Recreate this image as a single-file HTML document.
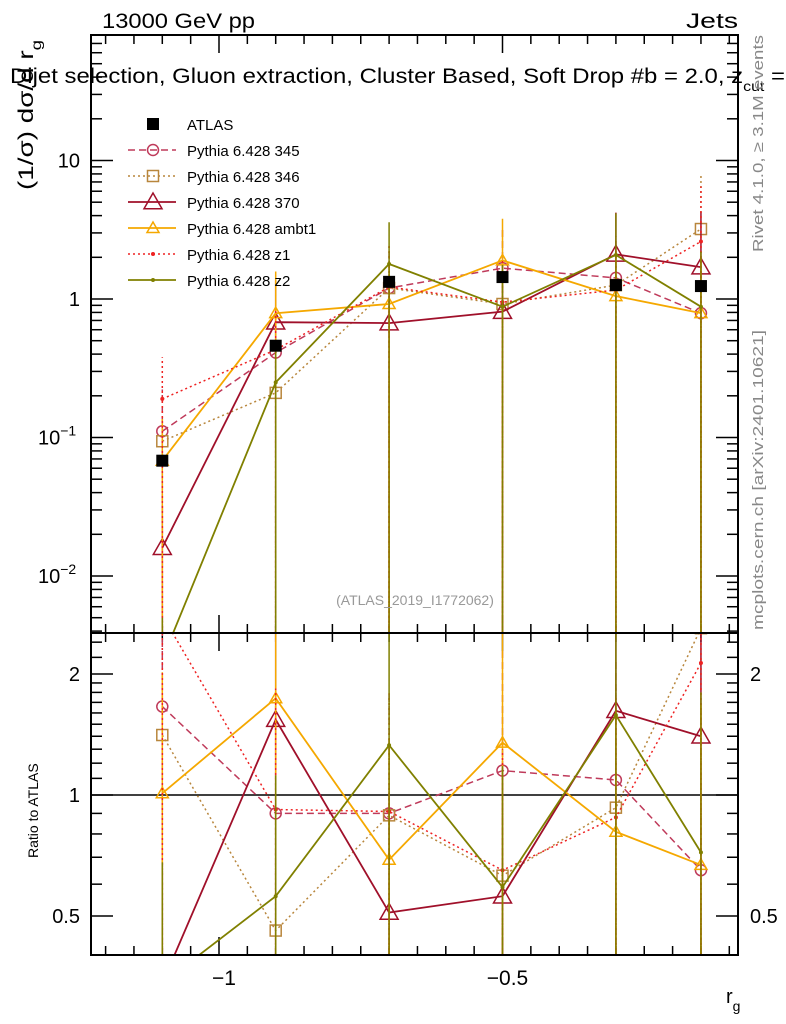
<!DOCTYPE html>
<html><head><meta charset="utf-8"><style>
html,body{margin:0;padding:0;background:#fff;overflow:hidden;width:786px;height:1024px}
svg{display:block;font-family:"Liberation Sans",sans-serif}
</style></head><body>
<svg id="chart" width="786" height="1024" viewBox="0 0 786 1024" xmlns="http://www.w3.org/2000/svg">
<defs>
<clipPath id="cm"><rect x="91" y="35" width="647" height="598"/></clipPath>
<clipPath id="cr"><rect x="91" y="633" width="647" height="322"/></clipPath>
</defs>
<g id="axes"></g>
<g id="mainMarks" clip-path="url(#cm)"></g>
<g id="ratioMarks" clip-path="url(#cr)"></g>
<rect x="91" y="35" width="647" height="598" fill="none" stroke="#000" stroke-width="2"/>
<rect x="91" y="633" width="647" height="322" fill="none" stroke="#000" stroke-width="2"/>
<text x="102" y="28" font-size="21" textLength="153" lengthAdjust="spacingAndGlyphs">13000 GeV pp</text>
<text x="686" y="28" font-size="21" textLength="52" lengthAdjust="spacingAndGlyphs">Jets</text>
<text x="10" y="83" font-size="21" textLength="775" lengthAdjust="spacingAndGlyphs">Dijet selection, Gluon extraction, Cluster Based, Soft Drop #b = 2.0, z<tspan font-size="14" dy="8">cut</tspan><tspan dy="-8"> =</tspan></text>
<text transform="translate(33,190) rotate(-90)" font-size="21" textLength="150" lengthAdjust="spacingAndGlyphs">(1/σ) dσ/d r<tspan font-size="14" dy="8">g</tspan></text>
<text transform="translate(38,858) rotate(-90)" font-size="14">Ratio to ATLAS</text>
<text x="726" y="1003" font-size="20">r<tspan font-size="14" dy="8">g</tspan></text>
<text transform="translate(763,252) rotate(-90)" font-size="15" fill="#888" textLength="217" lengthAdjust="spacingAndGlyphs">Rivet 4.1.0, ≥ 3.1M events</text>
<text transform="translate(763,630) rotate(-90)" font-size="15" fill="#888" textLength="300" lengthAdjust="spacingAndGlyphs">mcplots.cern.ch [arXiv:2401.10621]</text>
<text x="415" y="605" font-size="14" fill="#999" text-anchor="middle">(ATLAS_2019_I1772062)</text>
<g id="legend"></g>
<script>
const NS="http://www.w3.org/2000/svg";
const xVals=[-1.1,-0.9,-0.7,-0.5,-0.3,-0.15];
const atlas=[0.068,0.46,1.33,1.44,1.26,1.24];
const v345=[0.111,0.41,1.2,1.67,1.42,0.79];
const v346=[0.094,0.21,1.2,0.92,1.26,3.2];
const v370=[0.016,0.68,0.67,0.81,2.1,1.7];
const vAmbt1=[0.068,0.79,0.92,1.9,1.05,0.79];
const vZ1=[0.19,0.43,1.22,0.95,1.16,2.6];
const vZ2=[0.0025,0.25,1.79,0.88,2.08,0.88];
const r345=[1.66,0.90,0.90,1.15,1.09,0.65];
const r346=[1.41,0.46,0.89,0.63,0.93,2.6];
const r370=[0.34,1.54,0.51,0.56,1.62,1.40];
const rAmbt1=[1.01,1.74,0.69,1.35,0.81,0.67];
const rZ1=[2.8,0.92,0.91,0.65,0.88,2.13];
const rZ2=[0.34,0.56,1.33,0.59,1.58,0.72];
const errUp=[1.0,1.0,1.0,1.0,1.0,1.5];
const errDn=[1,1,1,1,1,1];
const yMainTicks=[10,1,0.1,0.01];
const yMainLabels=["10","1","10","10"];
const yMainExp=["","","−1","−2"];
const yRatioTicks=[2,1,0.5];
const yRatioLabels=["2","1","0.5"];
const xTicks=[-1,-0.5];
const xTickLabels=["−1","−0.5"];

const X=v=>219+(v+1)*567;
const YM=v=>299-138.5*Math.log10(v);
const YR=r=>795-121*Math.log2(r);
function el(tag,attrs,parent){const e=document.createElementNS(NS,tag);for(const k in attrs)e.setAttribute(k,attrs[k]);parent.appendChild(e);return e;}
const axes=document.getElementById('axes');
for(let i=0;i<=23;i++){const v=-1.2+i*0.05;const x=X(v);if(x<92||x>737)continue;
 const major=Math.abs(v*10-Math.round(v*10))<1e-6&&Math.abs(v*2-Math.round(v*2))<1e-6;
 const len=major?18:9;
 [[35,1],[633,-1],[633,1],[955,-1]].forEach(([y,d])=>{const t=el('line',{x1:x,x2:x,y1:y,y2:y+d*len,stroke:'#000','stroke-width':1.5},axes);
 
 });
}
xTicks.forEach((v,i)=>{const t=el('text',{x:X(v)+5,y:985,'font-size':21,'text-anchor':'middle'},axes);t.textContent=xTickLabels[i];
 
 });
for(let e=-3;e<=1;e++){for(let m=1;m<=9;m++){const v=m*Math.pow(10,e);const y=YM(v);if(y<36||y>632)continue;const len=m===1?22:11;
 [[91,1],[738,-1]].forEach(([x,d])=>{const t=el('line',{x1:x,x2:x+d*len,y1:y,y2:y,stroke:'#000','stroke-width':1.5},axes);
 
 });}}
yMainTicks.forEach((v,i)=>{const t=el('text',{x:yMainExp[i]?38:80,y:YM(v)+7,'font-size':20,'text-anchor':yMainExp[i]?'start':'end'},axes);t.textContent=yMainLabels[i];
 if(yMainExp[i]){const s=el('tspan',{'font-size':14,dy:-9},t);s.textContent=yMainExp[i];}
 
 });
[0.4,0.5,0.6,0.7,0.8,0.9,1,2].forEach(v=>{const y=YR(v);if(y<634||y>954)return;const len=(v===1||v===2||v===0.5)?22:11;
 [[91,1],[738,-1]].forEach(([x,d])=>{const t=el('line',{x1:x,x2:x+d*len,y1:y,y2:y,stroke:'#000','stroke-width':1.5},axes);
 
 });});
[1.1,1.2,1.3,1.4,1.5,1.6,1.7,1.8,1.9,2.2,2.4].forEach(v=>{const y=YR(v);if(y<634)return;[[91,1],[738,-1]].forEach(([x,d])=>{const t=el('line',{x1:x,x2:x+d*11,y1:y,y2:y,stroke:'#000','stroke-width':1.5},axes);
 
 });});
yRatioTicks.forEach((v,i)=>{const t=el('text',{x:80,y:YR(v)+7,'font-size':20,'text-anchor':'end'},axes);t.textContent=yRatioLabels[i];
 
 
 if(v!==1){const t2=el('text',{x:750,y:YR(v)+7,'font-size':20},axes);t2.textContent=yRatioLabels[i];
 
 }});
const one=el('line',{x1:91,x2:738,y1:YR(1),y2:YR(1),stroke:'#000','stroke-width':1.5},axes);



const series=[
 {name:'Pythia 6.428 345',key:'345',v:v345,r:r345,c:'#bf3a5a',dash:'7,4',mk:'circle',w:1.5},
 {name:'Pythia 6.428 346',key:'346',v:v346,r:r346,c:'#b8863c',dash:'2,3',mk:'square',w:1.5},
 {name:'Pythia 6.428 370',key:'370',v:v370,r:r370,c:'#a0102a',dash:'',mk:'tri',sz:9,w:1.8},
 {name:'Pythia 6.428 ambt1',key:'ambt1',v:vAmbt1,r:rAmbt1,c:'#f5a800',dash:'',mk:'tri',sz:6,w:1.8},
 {name:'Pythia 6.428 z1',key:'z1',v:vZ1,r:rZ1,c:'#ee2222',dash:'2,3',mk:'dot',w:1.5},
 {name:'Pythia 6.428 z2',key:'z2',v:vZ2,r:rZ2,c:'#808000',dash:'',mk:'dot',w:1.8}
];
function marker(g,s,x,y){let m;
 if(s.mk==='circle')m=el('circle',{cx:x,cy:y,r:5.5,fill:'none',stroke:s.c,'stroke-width':1.5},g);
 else if(s.mk==='square')m=el('rect',{x:x-5.5,y:y-5.5,width:11,height:11,fill:'none',stroke:s.c,'stroke-width':1.5},g);
 else if(s.mk==='tri'){const a=s.sz;m=el('polygon',{points:`${x},${y-a} ${x-a},${y+a*0.75} ${x+a},${y+a*0.75}`,fill:'none',stroke:s.c,'stroke-width':1.5},g);}
 else m=el('circle',{cx:x,cy:y,r:2,fill:s.c},g);
 return m;}
const mm=document.getElementById('mainMarks'),rm=document.getElementById('ratioMarks');
series.forEach(s=>{
 [[mm,s.v,YM,false,633],[rm,s.r,YR,true,955]].forEach(([g,vals,Y,isR,bot])=>{
  vals.forEach((v,i)=>{const lo=v*(1-errDn[i]);const hi=v*(1+errUp[i]);
   const e=el('line',{x1:X(xVals[i]),x2:X(xVals[i]),y1:lo>0?Y(lo):bot,y2:Y(hi),stroke:s.c,'stroke-width':1.5,'stroke-dasharray':s.dash},g);
   
   });
  const p=el('polyline',{points:vals.map((v,i)=>X(xVals[i])+','+Y(v)).join(' '),fill:'none',stroke:s.c,'stroke-width':s.w,'stroke-dasharray':s.dash},g);
  
  
  vals.forEach((v,i)=>{const m=marker(g,s,X(xVals[i]),Y(v));
   
   });
 });
});
atlas.forEach((v,i)=>{const r=el('rect',{x:X(xVals[i])-6,y:YM(v)-6,width:12,height:12,fill:'#000'},mm);
 
 });
const lg=document.getElementById('legend');
const la=el('rect',{x:147,y:118,width:12,height:12,fill:'#000'},lg);


const lt=el('text',{x:187,y:130,'font-size':15},lg);lt.textContent='ATLAS';


series.forEach((s,k)=>{const y=150+k*26;
 const l=el('line',{x1:128,x2:176,y1:y,y2:y,stroke:s.c,'stroke-width':s.w,'stroke-dasharray':s.dash},lg);
 
 
 const m=marker(lg,s,153,y);
 
 
 const t=el('text',{x:187,y:y+6,'font-size':15},lg);t.textContent=s.name;
 
 });
</script>
</svg>
</body></html>
